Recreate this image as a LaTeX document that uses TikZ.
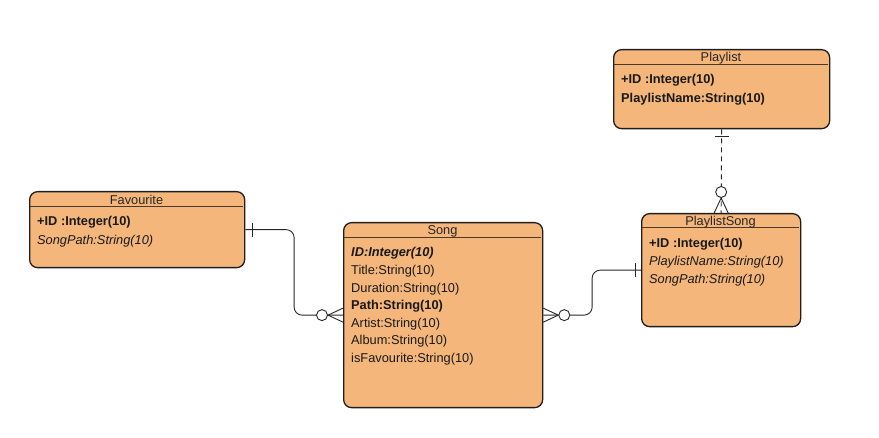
\documentclass[tikz,border=0pt]{standalone}
\usepackage{fontspec}
\setmainfont{Liberation Sans}
\usetikzlibrary{calc}
\definecolor{ent}{HTML}{F4B67A}
\definecolor{edge}{HTML}{1E1E1E}
\definecolor{hdr}{HTML}{4A3828}
\tikzset{
  x=1pt,y=-1pt,
  entity/.style={draw=edge,fill=ent,line width=1.3pt,rounded corners=8pt,anchor=north west,inner sep=0pt},
  ttl/.style={font=\fontsize{12.8}{14}\selectfont,text=black!85,inner sep=0pt,yshift=-1.2pt},
  attr/.style={font=\fontsize{12.8}{14}\selectfont,text=black!90,anchor=west,inner sep=0pt,yshift=-1.2pt},
  conn/.style={draw=black!85,line width=0.9pt},
  knob/.style={circle,draw=black!85,fill=white,line width=0.9pt,minimum size=11pt,inner sep=0pt},
}
\begin{document}
\begin{tikzpicture}
\useasboundingbox (0,0) rectangle (879,438);
% Playlist
\node[entity,minimum width=216pt,minimum height=79pt] (pl) at (613,49) {};
\draw[hdr,line width=1pt] (613.6,65) -- (828.4,65);
\node[ttl] (plt) at (721,57) {Playlist};
\node[attr] (pla1) at (621,79) {\bfseries +ID :Integer(10)};
\node[attr] (pla2) at (621,98) {\bfseries PlaylistName:String(10)};
% Favourite
\node[entity,minimum width=215pt,minimum height=76pt] (fav) at (29,191) {};
\draw[hdr,line width=1pt] (29.6,207) -- (243.4,207);
\node[ttl] (favt) at (136.5,199) {Favourite};
\node[attr] (fava1) at (37,221) {\bfseries +ID :Integer(10)};
\node[attr] (fava2) at (37,240) {\itshape SongPath:String(10)};
% Song
\node[entity,minimum width=199pt,minimum height=185pt] (song) at (343,222) {};
\draw[hdr,line width=1pt] (343.6,238) -- (541.4,238);
\node[ttl] (songt) at (442.5,230) {Song};
\node[attr] (sa1) at (351,252) {\bfseries\itshape ID:Integer(10)};
\node[attr] (sa2) at (351,270) {Title:String(10)};
\node[attr] (sa3) at (351,287.5) {Duration:String(10)};
\node[attr] (sa4) at (351,305) {\bfseries Path:String(10)};
\node[attr] (sa5) at (351,322.5) {Artist:String(10)};
\node[attr] (sa6) at (351,340) {Album:String(10)};
\node[attr] (sa7) at (351,358) {isFavourite:String(10)};
% PlaylistSong
\node[entity,minimum width=159pt,minimum height=113pt] (ps) at (641,213) {};
\draw[hdr,line width=1pt] (641.6,228) -- (799.4,228);
\node[ttl] (pst) at (720.5,220.5) {PlaylistSong};
\node[attr] (psa1) at (649,243) {\bfseries +ID :Integer(10)};
\node[attr] (psa2) at (649,261) {\itshape PlaylistName:String(10)};
\node[attr] (psa3) at (649,278.5) {\itshape SongPath:String(10)};
% connector Favourite -- Song
\coordinate (m1) at ($(fav.east)!0.5!(song.west)$);
\draw[conn,rounded corners=8pt] (fav.east) -| (m1) |- (song.west);
\draw[conn] ($(fav.east)+(7,-7)$) -- ($(fav.east)+(7,7)$);
\draw[conn] ($(song.west)+(-15,0)$) -- ($(song.west)+(0,-7)$);
\draw[conn] ($(song.west)+(-15,0)$) -- ($(song.west)+(0,7)$);
\node[knob] (k1) at ($(song.west)+(-21,0)$) {};
% connector Song -- PlaylistSong
\coordinate (m2) at ($(song.east)!0.5!(ps.west)$);
\draw[conn,rounded corners=8pt] (song.east) -| (m2) |- (ps.west);
\draw[conn] ($(ps.west)+(-6,-7)$) -- ($(ps.west)+(-6,7)$);
\draw[conn] ($(song.east)+(15,0)$) -- ($(song.east)+(0,-7)$);
\draw[conn] ($(song.east)+(15,0)$) -- ($(song.east)+(0,7)$);
\node[knob] (k2) at ($(song.east)+(21,0)$) {};
% connector Playlist -- PlaylistSong (dashed)
\draw[conn,dash pattern=on 5pt off 4pt] (pl.south) -- (ps.north);
\draw[conn] ($(pl.south)+(-7,7)$) -- ($(pl.south)+(7,7)$);
\draw[conn] ($(ps.north)+(0,-15)$) -- ($(ps.north)+(-7,0)$);
\draw[conn] ($(ps.north)+(0,-15)$) -- ($(ps.north)+(7,0)$);
\node[knob] (k3) at ($(ps.north)+(0,-21)$) {};
\end{tikzpicture}
\end{document}
